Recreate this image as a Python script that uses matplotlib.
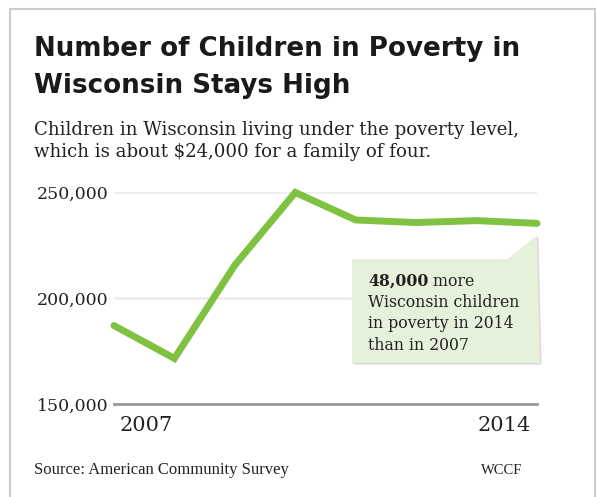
import matplotlib.pyplot as plt
from matplotlib.patches import Polygon, Rectangle

# data
years = [2007, 2008, 2009, 2010, 2011, 2012, 2013, 2014]
children = [187000, 171500, 215500, 249800, 236800, 235600, 236500, 235200]
y_ticks = [150000, 200000, 250000]
y_tick_labels = ["150,000", "200,000", "250,000"]

W, H = 596, 497
GREEN = "#7fc241"
BOX = "#e5f1da"
INK = "#222222"


def fx(px):
    return px / W


def fy(py):
    return 1 - py / H


fig = plt.figure(figsize=(W / 100, H / 100), dpi=100)
fig.patch.set_facecolor("white")

# outer frame
fig.patches.append(Rectangle((fx(10), fy(520)), fx(585), 511 / H, transform=fig.transFigure,
                             fill=False, edgecolor="#cccccc", linewidth=1.5, clip_on=False))

fig.text(fx(34), fy(49), "Number of Children in Poverty in", fontsize=18.8,
         fontweight="bold", family="DejaVu Sans", color="#1a1a1a", va="center", ha="left")
fig.text(fx(34), fy(86), "Wisconsin Stays High", fontsize=18.8,
         fontweight="bold", family="DejaVu Sans", color="#1a1a1a", va="center", ha="left")
fig.text(fx(34), fy(130), "Children in Wisconsin living under the poverty level,",
         fontsize=13.1, family="DejaVu Serif", color=INK, va="center", ha="left")
fig.text(fx(34), fy(152), "which is about $24,000 for a family of four.",
         fontsize=13.1, family="DejaVu Serif", color=INK, va="center", ha="left")

ax = fig.add_axes([fx(114), fy(404), fx(537) - fx(114), (404 - 192) / H])
ax.set_xlim(years[0], years[-1])
ax.set_ylim(y_ticks[0], y_ticks[-1])
for s in ax.spines.values():
    s.set_visible(False)
for t in y_ticks[1:]:
    ax.axhline(t, color="#eeeeee", linewidth=2, zorder=1)
ax.axhline(y_ticks[0], color="#999999", linewidth=2, zorder=1, clip_on=False)

ax.plot(years, children, color=GREEN, linewidth=5, solid_capstyle="round",
        solid_joinstyle="miter", clip_on=False, zorder=3)

ax.set_yticks(y_ticks)
ax.set_yticklabels(y_tick_labels, family="DejaVu Serif", fontsize=12.5, color=INK)
ax.tick_params(axis="y", length=0, pad=4)
ax.set_xticks([])

ax.text(0.012, -0.1, str(years[0]), transform=ax.transAxes, ha="left", va="center",
        family="DejaVu Serif", fontsize=15, color=INK)
ax.text(0.985, -0.1, str(years[-1]), transform=ax.transAxes, ha="right", va="center",
        family="DejaVu Serif", fontsize=15, color=INK)

# callout bubble
bubble = [(352, 259), (508, 259), (537, 235), (540, 363), (352, 363)]
ax.add_patch(Polygon([(fx(x + 1.5), fy(y + 1.5)) for x, y in bubble], closed=True,
                     transform=fig.transFigure, facecolor="#d9d9d9", edgecolor="none",
                     clip_on=False, zorder=4))
ax.add_patch(Polygon([(fx(x), fy(y)) for x, y in bubble], closed=True,
                     transform=fig.transFigure, facecolor=BOX, edgecolor="none",
                     clip_on=False, zorder=5))

bold = ax.text(fx(368), fy(281), "48,000", transform=fig.transFigure, fontsize=11.3,
               fontweight="bold", family="DejaVu Serif", color=INK, va="center",
               ha="left", zorder=6)
ax.annotate(" more", xy=(1, 0.5), xycoords=bold, va="center", ha="left",
            fontsize=11.3, family="DejaVu Serif", color=INK, annotation_clip=False,
            zorder=6)
note = ["Wisconsin children", "in poverty in 2014", "than in 2007"]
for i, line in enumerate(note):
    ax.text(fx(368), fy(302.5 + 21.5 * i), line, transform=fig.transFigure,
            fontsize=11.3, family="DejaVu Serif", color=INK, va="center", ha="left",
            zorder=6)

fig.text(fx(34), fy(470), "Source: American Community Survey", fontsize=12,
         family="Liberation Serif", color=INK, va="center", ha="left")
fig.text(fx(522), fy(470), "WCCF", fontsize=10.5, family="Liberation Serif",
         color=INK, va="center", ha="right")

fig.savefig("out.png", dpi=100)
